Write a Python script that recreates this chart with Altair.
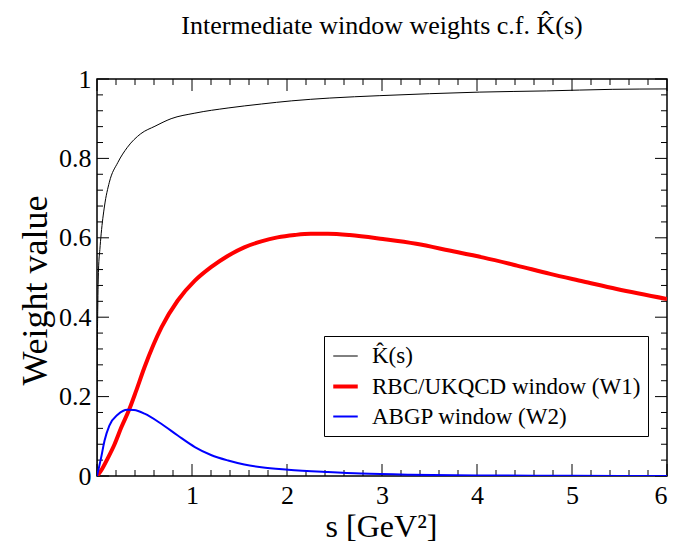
import altair as alt
import pandas as pd

# ---- data ----
k_s = [0, 0.003, 0.008, 0.016, 0.03, 0.044, 0.079, 0.13, 0.22, 0.32, 0.46, 0.61, 0.78,
       1.03, 1.38, 1.73, 2.05, 2.45, 2.97, 3.5, 4.03, 4.73, 5.43, 6.0]
k_v = [0, 0.30, 0.42, 0.52, 0.57, 0.61, 0.68, 0.74, 0.79, 0.828, 0.862, 0.881, 0.90,
       0.914, 0.927, 0.937, 0.945, 0.952, 0.958, 0.963, 0.967, 0.970, 0.974, 0.975]

w1_s = [0, 0.044, 0.114, 0.185, 0.255, 0.34, 0.41, 0.50, 0.68, 0.85, 1.03, 1.20, 1.38, 1.55,
        1.73, 1.90, 2.08, 2.25, 2.43, 2.66, 3.01, 3.36, 3.71, 4.07, 4.42, 4.77, 5.12, 5.47, 6.0]
w1_v = [0, 0.014, 0.045, 0.080, 0.122, 0.168, 0.213, 0.274, 0.375, 0.442, 0.492, 0.526, 0.555,
        0.576, 0.591, 0.601, 0.607, 0.610, 0.610, 0.607, 0.597, 0.585, 0.568, 0.550, 0.530,
        0.509, 0.490, 0.471, 0.446]

w2_s = [0, 0.044, 0.079, 0.13, 0.22, 0.32, 0.39, 0.50, 0.68, 0.85, 1.03, 1.20, 1.38, 1.55,
        1.73, 2.01, 2.43, 2.78, 3.3, 4.0, 5.0, 6.0]
w2_v = [0, 0.047, 0.089, 0.127, 0.155, 0.167, 0.166, 0.157, 0.131, 0.102, 0.073, 0.053,
        0.039, 0.029, 0.022, 0.016, 0.010, 0.006, 0.003, 0.0015, 0.0005, 0.0002]

series_names = ["K\u0302(s)", "RBC/UKQCD window (W1)", "ABGP window (W2)"]
series_colors = ["#000000", "#ff0000", "#0000ff"]
series_widths = [1, 4, 2]

x_major = [0, 1, 2, 3, 4, 5, 6]
x_minor = [0.2, 0.4, 0.6, 0.8, 1.2, 1.4, 1.6, 1.8, 2.2, 2.4, 2.6, 2.8, 3.2, 3.4, 3.6, 3.8,
           4.2, 4.4, 4.6, 4.8, 5.2, 5.4, 5.6, 5.8]
y_major = [0, 0.2, 0.4, 0.6, 0.8, 1.0]
y_minor = [0.04, 0.08, 0.12, 0.16, 0.24, 0.28, 0.32, 0.36, 0.44, 0.48, 0.52, 0.56,
           0.64, 0.68, 0.72, 0.76, 0.84, 0.88, 0.92, 0.96]

# ---- tables ----
rows = []
for name, ss, vv in [(series_names[0], k_s, k_v), (series_names[1], w1_s, w1_v),
                     (series_names[2], w2_s, w2_v)]:
    for i, (s, v) in enumerate(zip(ss, vv)):
        rows.append({"s": s, "v": v, "series": name, "i": i})
df = pd.DataFrame(rows)

W, H = 570, 397
FONT = "Liberation Serif"

xs = alt.Scale(domain=[0, 6], nice=False, zero=False)
ys = alt.Scale(domain=[0, 1], nice=False, zero=False)

lines = alt.Chart(df).mark_line(interpolate="monotone", clip=True).encode(
    x=alt.X("s:Q", scale=xs,
            axis=alt.Axis(values=[1, 2, 3, 4, 5, 6], format="~g", title="s [GeV\u00b2]",
                          titleX=284, titleY=50, titleBaseline="middle")),
    y=alt.Y("v:Q", scale=ys,
            axis=alt.Axis(values=y_major, format="~g", title="Weight value",
                          titleX=-62, titleY=211, titleBaseline="middle", titleAngle=-90,
                          titleFontSize=36)),
    color=alt.Color("series:N", title=None,
                    scale=alt.Scale(domain=series_names, range=series_colors),
                    legend=alt.Legend(orient="none", legendX=227, legendY=257)),
    strokeWidth=alt.StrokeWidth("series:N", title=None,
                                scale=alt.Scale(type="ordinal", domain=series_names,
                                                range=series_widths)),
    detail="series:N",
    order="i:Q",
)

def xticks(vals, length):
    d = pd.DataFrame({"t": vals})
    bot = alt.Chart(d).mark_rule(color="black", strokeWidth=1).encode(
        x=alt.X("t:Q", scale=xs), y=alt.value(H), y2=alt.value(H - length))
    top = alt.Chart(d).mark_rule(color="black", strokeWidth=1).encode(
        x=alt.X("t:Q", scale=xs), y=alt.value(0), y2=alt.value(length))
    return [bot, top]

def yticks(vals, length):
    d = pd.DataFrame({"t": vals})
    left = alt.Chart(d).mark_rule(color="black", strokeWidth=1).encode(
        y=alt.Y("t:Q", scale=ys), x=alt.value(0), x2=alt.value(length))
    right = alt.Chart(d).mark_rule(color="black", strokeWidth=1).encode(
        y=alt.Y("t:Q", scale=ys), x=alt.value(W), x2=alt.value(W - length))
    return [left, right]

tick_layers = xticks(x_major, 12) + xticks(x_minor, 6) + yticks(y_major, 12) + yticks(y_minor, 6)

chart = alt.layer(*tick_layers, lines).properties(
    width=W, height=H,
    title=alt.TitleParams("Intermediate window weights c.f. K\u0302(s)", font=FONT,
                          fontSize=26, fontWeight="normal", color="black",
                          anchor="middle", offset=27, frame="group"),
    autosize=alt.AutoSizeParams(type="none"),
    padding={"left": 97, "top": 79, "right": 11, "bottom": 75},
).resolve_scale(x="shared", y="shared").configure_view(
    stroke="black", strokeWidth=1.5
).configure_axis(
    domain=False, grid=False, ticks=False,
    labelFont=FONT, labelFontSize=26, labelColor="black", labelPadding=6,
    titleFont=FONT, titleFontSize=32, titleFontWeight="normal", titleColor="black",
).configure_legend(
    symbolType="stroke", symbolSize=600, labelFont=FONT, labelFontSize=23,
    labelColor="black", strokeColor="black", fillColor="white", padding=7,
    rowPadding=4, labelOffset=12, cornerRadius=0, labelLimit=500,
)

chart.save("out.html", embed_options={"renderer": "svg", "actions": False})
